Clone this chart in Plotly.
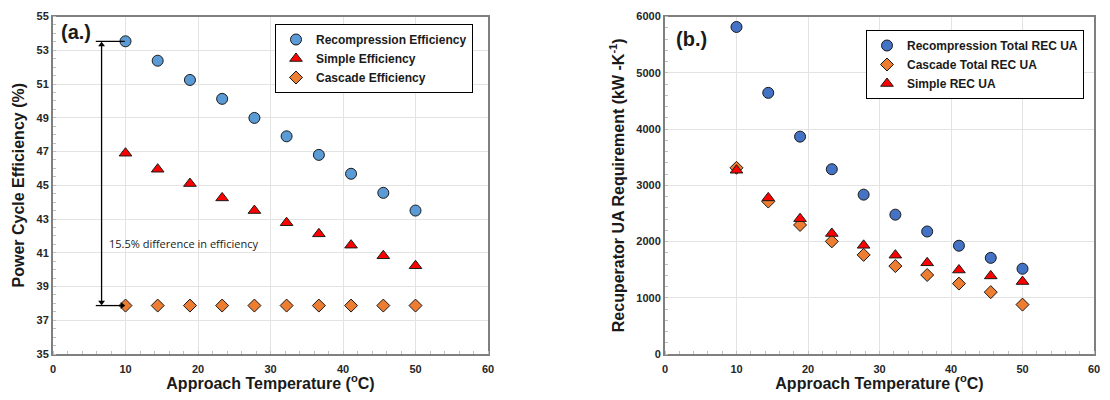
import plotly.graph_objects as go

approach_temp = [10, 14.44, 18.89, 23.33, 27.78, 32.22, 36.67, 41.11, 45.56, 50]

recomp_eff = [53.53, 52.38, 51.24, 50.12, 48.99, 47.9, 46.8, 45.68, 44.55, 43.5]
simple_eff = [46.9, 45.95, 45.1, 44.25, 43.5, 42.78, 42.12, 41.45, 40.82, 40.23]
cascade_eff = [37.87, 37.87, 37.87, 37.87, 37.87, 37.87, 37.87, 37.87, 37.87, 37.87]

recomp_ua = [5814, 4643, 3864, 3285, 2833, 2477, 2178, 1925, 1709, 1516]
cascade_ua = [3310, 2710, 2294, 2002, 1762, 1563, 1405, 1252, 1100, 878]
simple_ua = [3267, 2775, 2406, 2143, 1932, 1757, 1621, 1493, 1388, 1288]

x_ticks = [0, 10, 20, 30, 40, 50, 60]
eff_ticks = [35, 37, 39, 41, 43, 45, 47, 49, 51, 53, 55]
ua_ticks = [0, 1000, 2000, 3000, 4000, 5000, 6000]

arrow_x = 6.7
line_x0, line_x1 = 5.9, 9.9

# page has an 8px body margin; figure is sized/positioned to compensate
W, H, OFF = 1094, 384, 8

fig = go.Figure()

outline = dict(color="#1a1a1a", width=1)

fig.add_trace(go.Scatter(x=approach_temp, y=recomp_eff, mode="markers", name="Recompression Efficiency",
                         marker=dict(symbol="circle", size=11, color="#5b9bd5", line=outline),
                         xaxis="x", yaxis="y", legend="legend"))
fig.add_trace(go.Scatter(x=approach_temp, y=simple_eff, mode="markers", name="Simple Efficiency",
                         marker=dict(symbol="triangle-up", size=11, color="#ff0000", line=outline),
                         xaxis="x", yaxis="y", legend="legend"))
fig.add_trace(go.Scatter(x=approach_temp, y=cascade_eff, mode="markers", name="Cascade Efficiency",
                         marker=dict(symbol="diamond", size=10, color="#ed7d31", line=outline),
                         xaxis="x", yaxis="y", legend="legend"))

fig.add_trace(go.Scatter(x=approach_temp, y=recomp_ua, mode="markers", name="Recompression Total REC UA",
                         marker=dict(symbol="circle", size=11, color="#4472c4", line=outline),
                         xaxis="x2", yaxis="y2", legend="legend2"))
fig.add_trace(go.Scatter(x=approach_temp, y=cascade_ua, mode="markers", name="Cascade Total REC UA",
                         marker=dict(symbol="diamond", size=10, color="#ed7d31", line=outline),
                         xaxis="x2", yaxis="y2", legend="legend2"))
fig.add_trace(go.Scatter(x=approach_temp, y=simple_ua, mode="markers", name="Simple REC UA",
                         marker=dict(symbol="triangle-up", size=11, color="#ff0000", line=outline),
                         xaxis="x2", yaxis="y2", legend="legend2"))

# difference arrow (lines + arrowheads)
fig.add_trace(go.Scatter(x=[line_x0, line_x1, None, arrow_x, arrow_x, None, line_x0, line_x1 - 0.2],
                         y=[recomp_eff[0], recomp_eff[0], None, recomp_eff[0] - 0.1, cascade_eff[0] + 0.1, None,
                            cascade_eff[0], cascade_eff[0]],
                         mode="lines", line=dict(color="#000000", width=1.3), showlegend=False,
                         hoverinfo="skip", xaxis="x", yaxis="y"))
fig.add_trace(go.Scatter(x=[arrow_x, arrow_x, line_x1 - 0.35],
                         y=[recomp_eff[0] - 0.2, cascade_eff[0] + 0.2, cascade_eff[0]],
                         mode="markers", marker=dict(symbol=["triangle-up", "triangle-down", "triangle-right"],
                                                     size=6, color="#000000"),
                         showlegend=False, hoverinfo="skip", xaxis="x", yaxis="y"))

tickfont = dict(family="Liberation Sans, Arial", size=11, color="#262626", weight="bold")
titlefont = dict(family="Liberation Sans, Arial", size=16, color="#1a1a1a", weight="bold")

def xax(domain, anchor):
    return dict(domain=domain, anchor=anchor, range=[0, 60], tickvals=x_ticks, automargin=False,
                showgrid=True, gridcolor="#e3e3e3", gridwidth=1, zeroline=False,
                showline=True, mirror=True, linecolor="#7f7f7f", linewidth=2,
                ticks="", tickfont=tickfont, ticklabelstandoff=4,
                minor=dict(dtick=2, ticks="inside", ticklen=3, tickcolor="#bfbfbf", showgrid=False),
                title=dict(text="Approach Temperature (<sup>o</sup>C)", font=titlefont, standoff=6))

def yax(domain, anchor, rng, ticks, title, minor_dtick):
    return dict(domain=domain, anchor=anchor, range=rng, tickvals=ticks, automargin=False,
                showgrid=True, gridcolor="#e3e3e3", gridwidth=1, zeroline=False,
                showline=True, mirror=True, linecolor="#7f7f7f", linewidth=2,
                ticks="", tickfont=tickfont,
                minor=dict(dtick=minor_dtick, ticks="inside", ticklen=3, tickcolor="#bfbfbf", showgrid=False),
                title=dict(text=title, font=titlefont, standoff=8))

def px(x):
    return (x - OFF) / W

def py(y):
    return 1 - (y - OFF) / H

ydom = [py(354), py(16.5)]
legfont = dict(family="Liberation Sans, Arial", size=12, color="#1a1a1a", weight="bold")
fig.update_layout(
    width=W, height=H,
    margin=dict(l=0, r=0, t=0, b=0, autoexpand=False),
    paper_bgcolor="white", plot_bgcolor="white",
    xaxis=xax([px(53), px(488)], "y"),
    yaxis=yax(ydom, "x", [35, 55], eff_ticks, "Power Cycle Efficiency (%)", 0.5),
    xaxis2=xax([px(665), px(1094)], "y2"),
    yaxis2=yax(ydom, "x2", [0, 6000], ua_ticks, "Recuperator UA Requirement (kW -K<sup>-1</sup>)", 200),
    legend=dict(x=px(473), xanchor="right", y=py(24), yanchor="top",
                bgcolor="white", bordercolor="#000000", borderwidth=1,
                font=legfont, itemwidth=30, tracegroupgap=0),
    legend2=dict(x=px(1084), xanchor="right", y=py(30), yanchor="top",
                 bgcolor="white", bordercolor="#000000", borderwidth=1,
                 font=legfont, itemwidth=30, tracegroupgap=0),
    showlegend=True,
)

fig.add_annotation(x=0.8, y=54.1, xref="x", yref="y", text="(a.)", showarrow=False, xanchor="left",
                   font=dict(family="Liberation Sans, Arial", size=20, color="#1a1a1a", weight="bold"))
fig.add_annotation(x=1.2, y=5600, xref="x2", yref="y2", text="(b.)", showarrow=False, xanchor="left",
                   font=dict(family="Liberation Sans, Arial", size=20, color="#1a1a1a", weight="bold"))
fig.add_annotation(x=7.5, y=41.55, xref="x", yref="y", text="15.5% difference in efficiency", showarrow=False,
                   xanchor="left", font=dict(family="Open Sans, Noto Sans", size=11, color="#1a1a1a"))

fig.write_html("out.html")
